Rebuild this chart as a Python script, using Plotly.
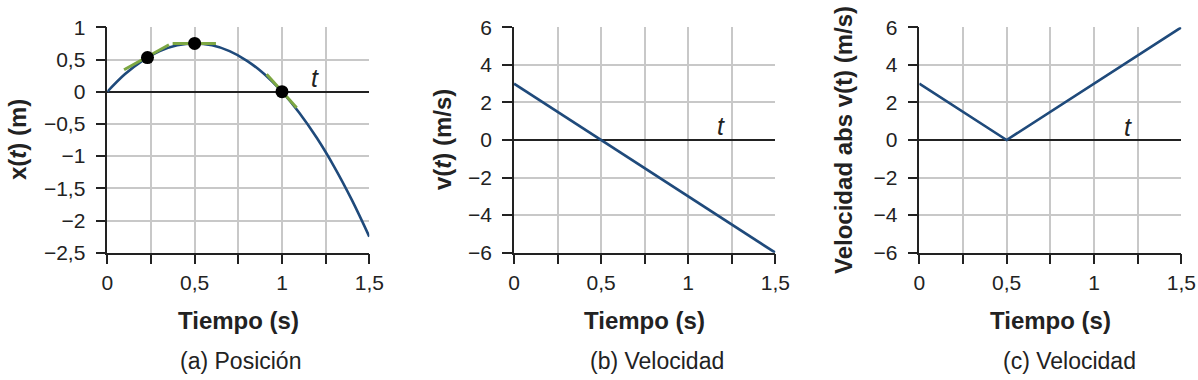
import plotly.graph_objects as go

# ---- data ----
t_pos = [0, 0.1, 0.2, 0.3, 0.4, 0.5, 0.6, 0.7, 0.8, 0.9, 1.0, 1.1, 1.2, 1.3, 1.4, 1.5]
x_pos = [0, 0.27, 0.48, 0.63, 0.72, 0.75, 0.72, 0.63, 0.48, 0.27, 0, -0.33, -0.72, -1.17, -1.68, -2.25]

dot_t = [0.23, 0.5, 1.0]
dot_x = [0.53, 0.75, 0.0]

tan1_t = [0.096, 0.353]
tan1_x = [0.34, 0.73]
tan2_t = [0.374, 0.622]
tan2_x = [0.75, 0.75]
tan3_t = [0.912, 1.084]
tan3_x = [0.27, -0.25]

t_vel = [0, 1.5]
v_vel = [3, -6]

t_abs = [0, 0.5, 1.5]
v_abs = [3, 0, 6]

x_tickvals = [0, 0.25, 0.5, 0.75, 1.0, 1.25, 1.5]
x_ticktext = ["0", "", "0,5", "", "1", "", "1,5"]

ya_tickvals = [1, 0.5, 0, -0.5, -1, -1.5, -2, -2.5]
ya_ticktext = ["1", "0,5", "0", "\u22120,5", "\u22121", "\u22121,5", "\u22122", "\u22122,5"]

yv_tickvals = [6, 4, 2, 0, -2, -4, -6]
yv_ticktext = ["6", "4", "2", "0", "\u22122", "\u22124", "\u22126"]

ytitles = ["x(<i>t</i>) (m)", "v(<i>t</i>) (m/s)", "Velocidad abs v(t) (m/s)"]
xtitle = "Tiempo (s)"
subtitles = ["(a) Posición", "(b) Velocidad", "(c) Velocidad"]

# ---- style ----
W, H = 1198, 380
BLUE = "#1f4a7b"
GREEN = "#7da743"
GRID = "#c8c8c8"
FONT = "Liberation Sans, Arial, sans-serif"

fig = go.Figure()

fig.add_trace(go.Scatter(x=t_pos, y=x_pos, mode="lines", line=dict(color=BLUE, width=2.6, shape="spline"),
                         xaxis="x", yaxis="y", showlegend=False, hoverinfo="skip"))
for tt, xx in [(tan1_t, tan1_x), (tan2_t, tan2_x), (tan3_t, tan3_x)]:
    fig.add_trace(go.Scatter(x=tt, y=xx, mode="lines", line=dict(color=GREEN, width=3),
                             xaxis="x", yaxis="y", showlegend=False, hoverinfo="skip"))
fig.add_trace(go.Scatter(x=dot_t, y=dot_x, mode="markers", marker=dict(color="black", size=13),
                         xaxis="x", yaxis="y", showlegend=False))

fig.add_trace(go.Scatter(x=t_vel, y=v_vel, mode="lines", line=dict(color=BLUE, width=2.6),
                         xaxis="x2", yaxis="y2", showlegend=False))
fig.add_trace(go.Scatter(x=t_abs, y=v_abs, mode="lines", line=dict(color=BLUE, width=2.6),
                         xaxis="x3", yaxis="y3", showlegend=False))

xdoms = [(107.3 / W, 369.3 / W), (514 / W, 775.3 / W), (919.3 / W, 1181.3 / W)]
ydom = (1 - 252.7 / H, 1 - 27.3 / H)

def xaxis_cfg(i):
    return dict(domain=list(xdoms[i]), range=[0, 1.5], tickvals=x_tickvals, ticktext=x_ticktext,
                ticks="outside", ticklen=10, tickwidth=1.5, tickcolor="#222",
                showline=True, linecolor="#222", linewidth=1.5,
                showgrid=True, gridcolor=GRID, gridwidth=1.5, zeroline=False,
                tickfont=dict(size=21, color="#222", family=FONT), ticklabelstandoff=0,
                anchor=["y", "y2", "y3"][i], fixedrange=True, automargin=False)

def yaxis_cfg(i, vals, text, rng):
    return dict(domain=list(ydom), range=rng, tickvals=vals, ticktext=text,
                ticks="outside", ticklen=10, tickwidth=1.5, tickcolor="#222",
                showline=True, linecolor="#222", linewidth=1.5,
                showgrid=True, gridcolor=GRID, gridwidth=1.5,
                zeroline=True, zerolinecolor="#222", zerolinewidth=1.5,
                tickfont=dict(size=21, color="#222", family=FONT), ticklabelstandoff=6,
                anchor=["x", "x2", "x3"][i], fixedrange=True, automargin=False)

fig.update_layout(
    template="none",
    width=W, height=H, autosize=False,
    margin=dict(l=0, r=0, t=0, b=0, autoexpand=False),
    paper_bgcolor="white", plot_bgcolor="white",
    font=dict(family=FONT, color="#222"),
    xaxis=xaxis_cfg(0), xaxis2=xaxis_cfg(1), xaxis3=xaxis_cfg(2),
    yaxis=yaxis_cfg(0, ya_tickvals, ya_ticktext, [-2.5, 1]),
    yaxis2=yaxis_cfg(1, yv_tickvals, yv_ticktext, [-6, 6]),
    yaxis3=yaxis_cfg(2, yv_tickvals, yv_ticktext, [-6, 6]),
)

# axis titles and captions
ytitle_x = [17, 442, 843]
xtitle_cx = [238.3, 644.7, 1050.3]
sub_cx = [240, 657, 1069]
for i in range(3):
    fig.add_annotation(text="<b>" + ytitles[i] + "</b>", textangle=-90, xref="paper", yref="paper",
                       x=ytitle_x[i] / W, y=1 - 140 / H, xanchor="center", yanchor="middle",
                       showarrow=False, font=dict(size=24, family=FONT, color="#222"))
    fig.add_annotation(text="<b>" + xtitle + "</b>", xref="paper", yref="paper",
                       x=xtitle_cx[i] / W, y=1 - 320 / H, xanchor="center", yanchor="middle",
                       showarrow=False, font=dict(size=24, family=FONT, color="#222"))
    fig.add_annotation(text=subtitles[i], xref="paper", yref="paper",
                       x=sub_cx[i] / W, y=1 - 361 / H, xanchor="center", yanchor="middle",
                       showarrow=False, font=dict(size=23, family=FONT, color="#222"))

# italic "t" axis labels
fig.add_annotation(text="<i>t</i>", x=1.19, y=0.21, xref="x", yref="y", showarrow=False,
                   font=dict(size=25, family=FONT, color="#222"))
fig.add_annotation(text="<i>t</i>", x=1.19, y=0.72, xref="x2", yref="y2", showarrow=False,
                   font=dict(size=25, family=FONT, color="#222"))
fig.add_annotation(text="<i>t</i>", x=1.195, y=0.7, xref="x3", yref="y3", showarrow=False,
                   font=dict(size=25, family=FONT, color="#222"))

fig.write_html("out.html", config={"displayModeBar": False},
               post_script="document.body.style.margin='0';document.body.style.overflow='hidden';")
